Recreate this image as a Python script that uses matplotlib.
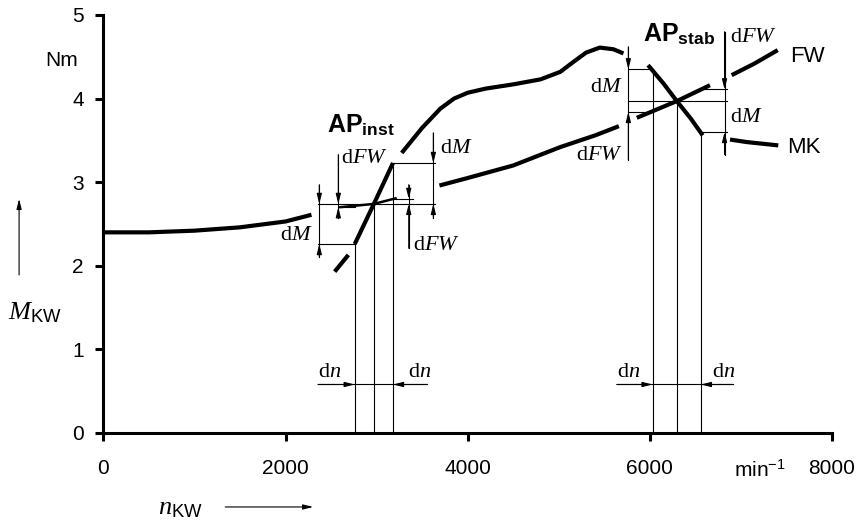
import numpy as np
import matplotlib.pyplot as plt

plt.rcParams['font.family'] = 'Liberation Sans'
plt.rcParams['mathtext.fontset'] = 'custom'
plt.rcParams['mathtext.rm'] = 'Liberation Serif'
plt.rcParams['mathtext.it'] = 'Liberation Serif:italic'
plt.rcParams['mathtext.bf'] = 'Liberation Sans:bold'
plt.rcParams['mathtext.sf'] = 'Liberation Sans'

# fan load line FW (n in min^-1, M in Nm), split where the sketch leaves gaps
FW_SEGMENTS = [
    ([0, 500, 1000, 1500, 2000, 2285], [2.40, 2.40, 2.42, 2.46, 2.53, 2.61]),
    ([3690, 4000, 4500, 5017, 5400, 5660], [2.96, 3.05, 3.20, 3.42, 3.56, 3.67]),
    ([5857, 6296, 6660], [3.77, 3.97, 4.16]),
    ([6898, 7150, 7404], [4.28, 4.42, 4.58]),
]
FW_INNER = ([2590, 2970, 3221], [2.70, 2.74, 2.81])

# motor characteristic MK
MK_SEGMENTS = [
    ([2540, 2690], [1.93, 2.13]),
    ([2760, 2970, 3180], [2.26, 2.74, 3.23]),
    ([3276, 3500, 3700, 3850, 4000, 4200, 4500, 4800, 5017, 5150, 5300, 5450, 5600, 5710],
     [3.35, 3.65, 3.88, 4.00, 4.07, 4.12, 4.17, 4.23, 4.32, 4.43, 4.55, 4.61, 4.59, 4.54]),
    ([5980, 6150, 6296, 6450, 6580], [4.40, 4.18, 3.97, 3.76, 3.56]),
    ([6880, 7063, 7410], [3.51, 3.48, 3.44]),
]

# operating points: speeds n-dn, n, n+dn and torques there
INST_N = [2760, 2970, 3180]
INST_MK = [2.26, 2.74, 3.23]
INST_FW = [2.70, 2.74, 2.80]
STAB_N = [6030, 6295, 6560]
STAB_MK = [4.35, 3.97, 3.60]
STAB_FW = [3.84, 3.97, 4.11]

X_TICKS = [0, 2000, 4000, 6000, 8000]
Y_TICKS = [0, 1, 2, 3, 4, 5]

THIN = 0.8
ARROW = dict(arrowstyle='-|>,head_length=0.6,head_width=0.15', color='k',
             lw=THIN, shrinkA=0, shrinkB=0, mutation_scale=10)


def arrow(ax, x0, y0, x1, y1):
    ax.annotate('', xy=(x1, y1), xytext=(x0, y0), arrowprops=ARROW,
                annotation_clip=False)


def dim_line(ax, n, top, bottom, head_top, head_bottom):
    ax.plot([n, n], [top, bottom], color='k', lw=THIN)
    arrow(ax, n, top, n, head_top)
    arrow(ax, n, bottom, n, head_bottom)


def hline(ax, y, x0, x1):
    ax.plot([x0, x1], [y, y], color='k', lw=THIN)


fig = plt.figure(figsize=(8.59, 5.24), dpi=100)
ax = fig.add_axes([0.1203, 0.1737, 0.8483, 0.7977])

for n, m in FW_SEGMENTS:
    ax.plot(n, m, color='k', lw=3.0, solid_capstyle='butt')
ax.plot(*FW_INNER, color='k', lw=1.8, solid_capstyle='butt')
for n, m in MK_SEGMENTS:
    ax.plot(n, m, color='k', lw=3.0, solid_capstyle='butt')

# --- AP inst construction ---
for n, m in zip(INST_N, INST_MK):
    ax.plot([n, n], [0, m], color='k', lw=THIN)
hline(ax, INST_MK[1], 2357, 3640)
hline(ax, INST_MK[0], 2357, INST_N[0])
hline(ax, INST_FW[0], 2590, INST_N[0])
hline(ax, INST_FW[2], INST_N[2], 3400)
hline(ax, INST_MK[2], INST_N[2], 3640)
dim_line(ax, 2371, 2.97, 2.11, INST_MK[1], INST_MK[0])
dim_line(ax, 2580, 3.33, 2.57, INST_MK[1], INST_FW[0])
dim_line(ax, 3353, 2.97, 2.21, INST_FW[2], INST_MK[1])
dim_line(ax, 3623, 3.59, 2.57, INST_MK[2], INST_MK[1])
hline(ax, 0.58, 2357, 3554)
arrow(ax, 2357, 0.58, INST_N[0], 0.58)
arrow(ax, 3554, 0.58, INST_N[2], 0.58)

# --- AP stab construction ---
for n, m in zip(STAB_N, STAB_MK):
    ax.plot([n, n], [0, m], color='k', lw=THIN)
hline(ax, STAB_MK[1], 5764, 6850)
hline(ax, STAB_MK[0], 5764, STAB_N[0])
hline(ax, STAB_FW[0], 5764, STAB_N[0])
hline(ax, STAB_FW[2], STAB_N[2], 6850)
hline(ax, STAB_MK[2], STAB_N[2], 6850)
dim_line(ax, 5764, 4.62, 3.27, STAB_MK[0], STAB_FW[0])
dim_line(ax, 6820, 4.80, 3.33, STAB_FW[2], STAB_MK[2])
hline(ax, 0.58, 5636, 6913)
arrow(ax, 5636, 0.58, STAB_N[0], 0.58)
arrow(ax, 6913, 0.58, STAB_N[2], 0.58)

# labels
serif = dict(fontsize=16, va='center')
ax.text(2455, 3.60, r'$\mathbf{AP}_{\mathbf{inst}}$', fontsize=18, va='baseline')
ax.text(5925, 4.68, r'$\mathbf{AP}_{\mathbf{stab}}$', fontsize=18, va='baseline')
ax.text(2871, 3.29, r'$\mathrm{d}FW$', ha='center', **serif)
ax.text(2302, 2.37, r'$\mathrm{d}M$', ha='right', **serif)
ax.text(3698, 3.41, r'$\mathrm{d}M$', ha='left', **serif)
ax.text(3400, 2.26, r'$\mathrm{d}FW$', ha='left', **serif)
ax.text(5705, 4.14, r'$\mathrm{d}M$', ha='right', **serif)
ax.text(5705, 3.33, r'$\mathrm{d}FW$', ha='right', **serif)
ax.text(6880, 4.74, r'$\mathrm{d}FW$', ha='left', **serif)
ax.text(6880, 3.78, r'$\mathrm{d}M$', ha='left', **serif)
for n in [2357, 3345, 5638, 6682]:
    ax.text(n, 0.73, r'$\mathrm{d}n$', ha='left', **serif)

ax.text(7538, 4.50, 'FW', fontsize=16, ha='left', va='center')
ax.text(7505, 3.41, 'MK', fontsize=16, ha='left', va='center')
ax.text(-453, 4.46, 'Nm', fontsize=15, ha='center', va='center')
ax.text(7209, -0.44, r'min$^{\mathsf{-1}}$', fontsize=15, ha='center', va='center')

ax.text(-750, 1.44, r'$M_{\mathsf{KW}}$', fontsize=19, ha='center', va='center')
arrow(ax, -925, 1.89, -925, 2.80)
ax.text(843, -0.90, r'$n_{\mathsf{KW}}$', fontsize=19, ha='center', va='center')
arrow(ax, 1338, -0.885, 2304, -0.885)

ax.set_xlim(0, 8000)
ax.set_ylim(0, 5)
ax.set_xticks(X_TICKS)
ax.set_yticks(Y_TICKS)
ax.spines['top'].set_visible(False)
ax.spines['right'].set_visible(False)
for s in ['left', 'bottom']:
    ax.spines[s].set_linewidth(2.2)
ax.tick_params(axis='both', direction='out', length=6, width=2.2, labelsize=15)
ax.tick_params(axis='x', pad=13)
ax.tick_params(axis='y', pad=8)

fig.savefig('out.png', dpi=100)
